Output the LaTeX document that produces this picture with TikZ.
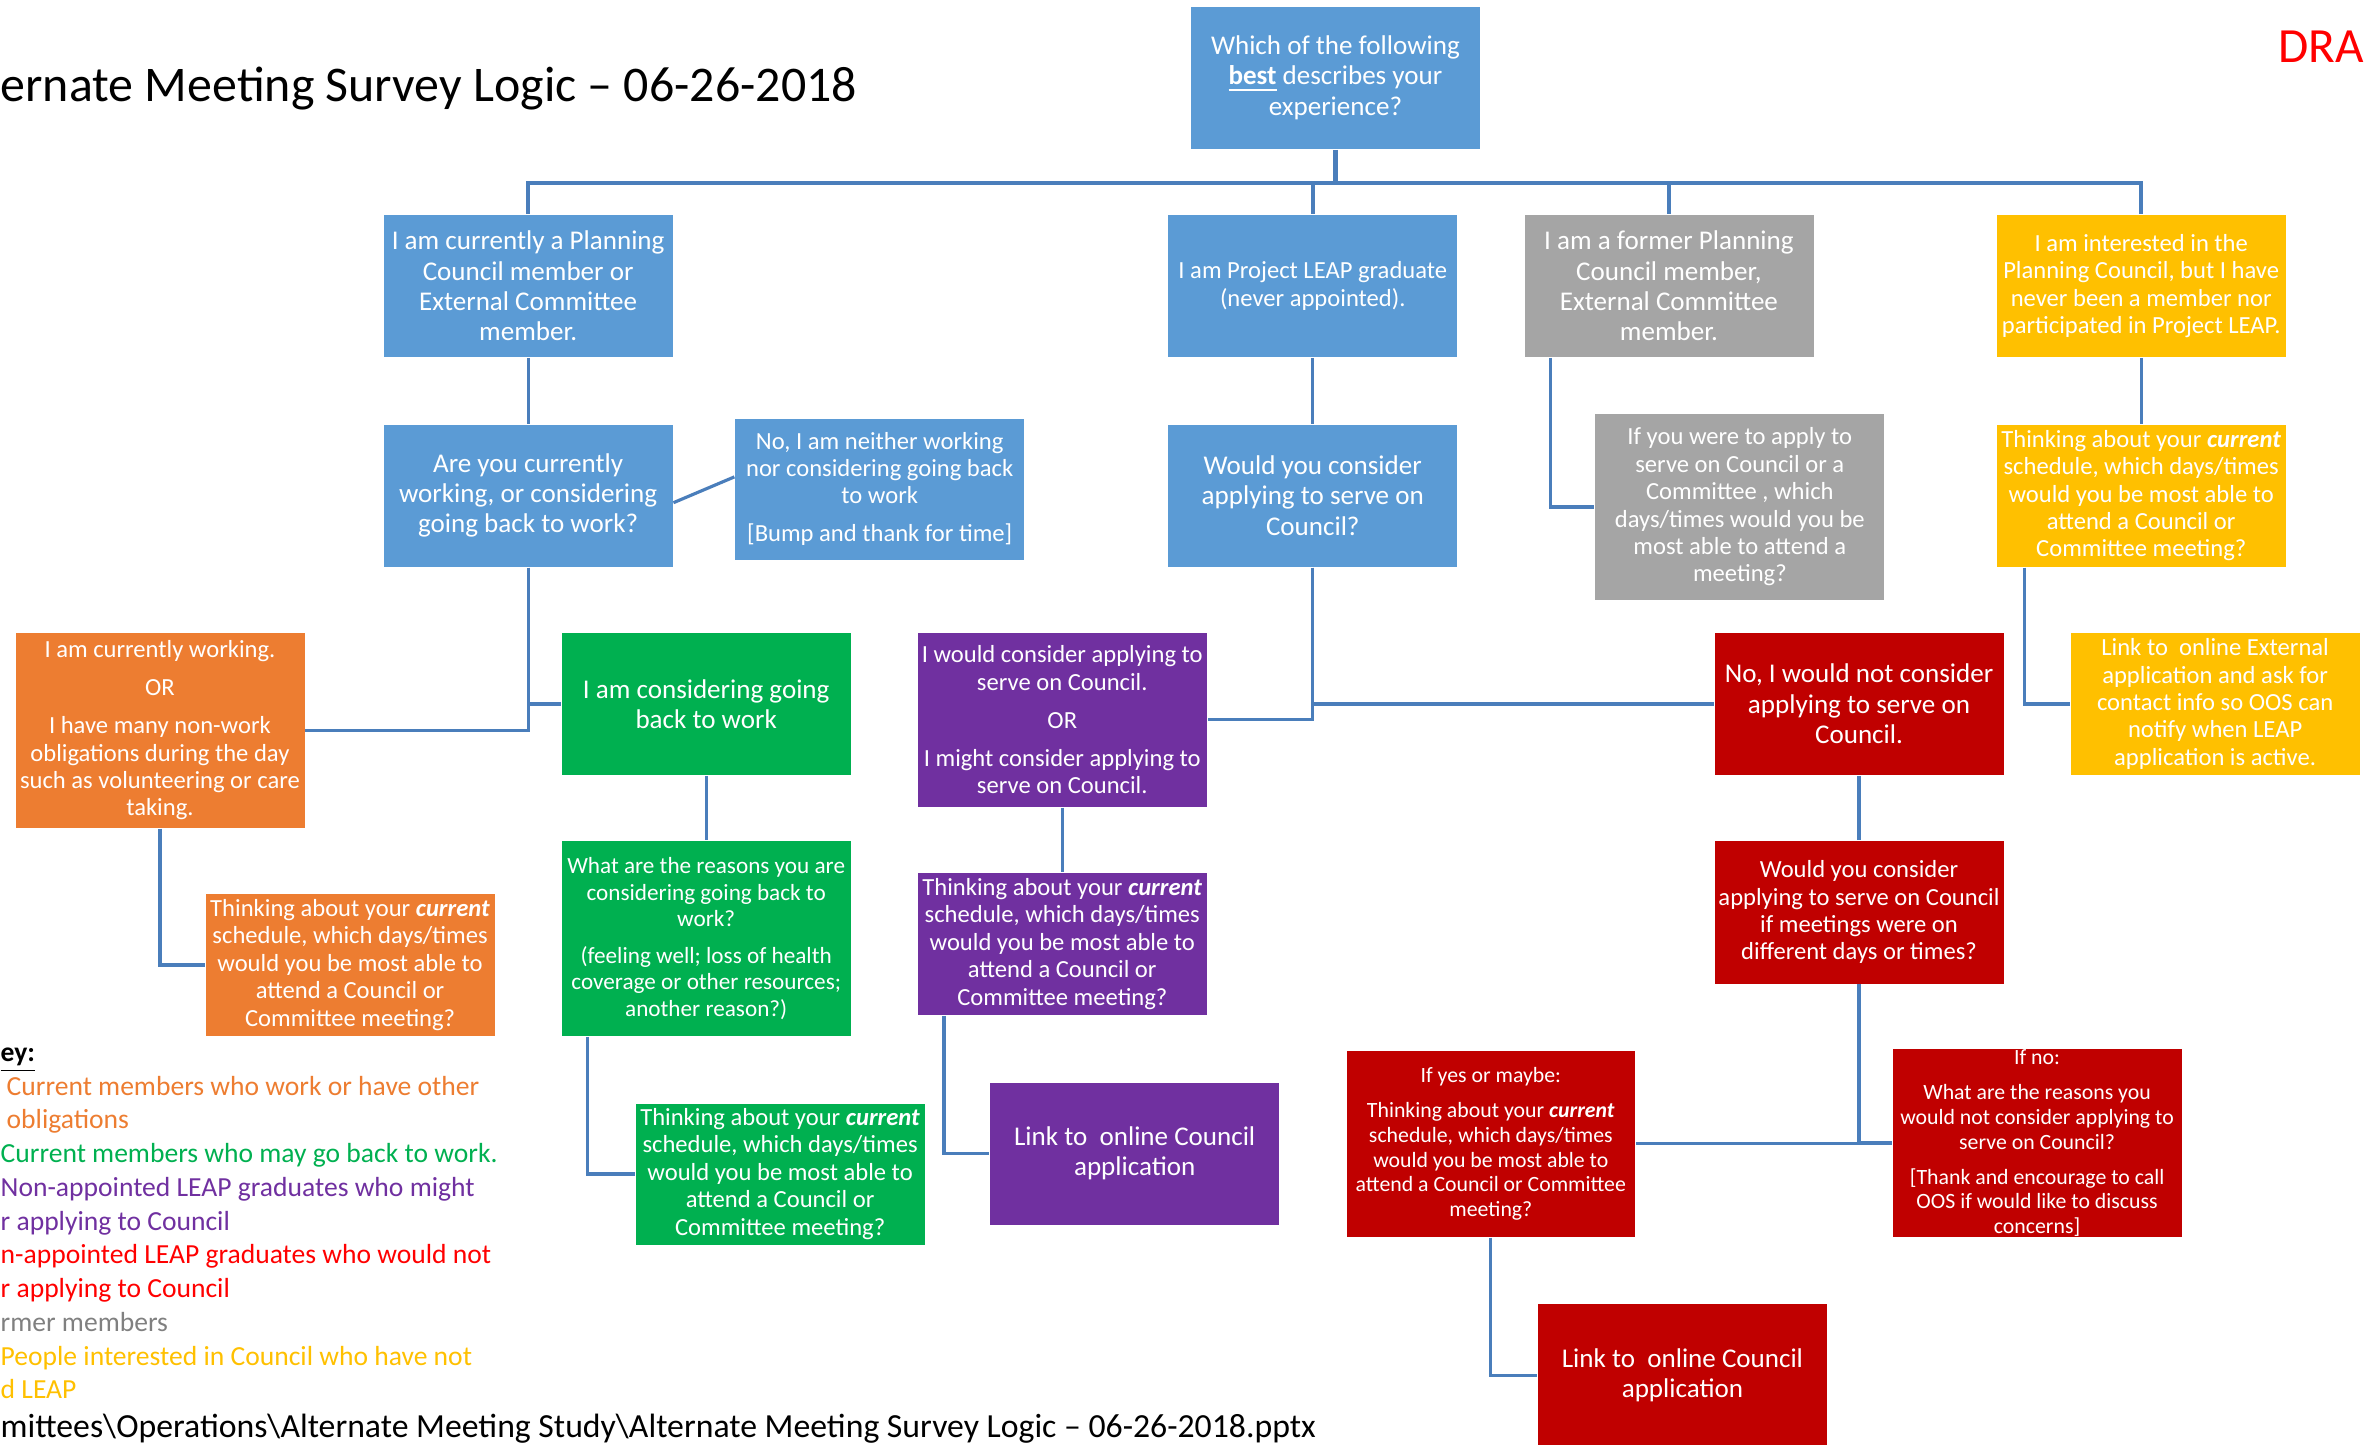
\documentclass[tikz,border=0pt]{standalone}
\usepackage{fontspec}
\setmainfont{Carlito}
\usepackage{tikz}
\usetikzlibrary{positioning, calc}

\definecolor{boxblue}{HTML}{5B9BD5}
\definecolor{boxgray}{HTML}{A5A5A5}
\definecolor{boxyellow}{HTML}{FFC000}
\definecolor{boxorange}{HTML}{ED7D31}
\definecolor{boxgreen}{HTML}{00B050}
\definecolor{boxpurple}{HTML}{7030A0}
\definecolor{boxred}{HTML}{C00000}
\definecolor{keyred}{HTML}{FF0000}
\definecolor{keygray}{HTML}{808080}
\definecolor{linkline}{HTML}{4A7EBB}

\newcommand{\txtbig}{\fontsize{7.7}{8.6}\selectfont}
\newcommand{\txtmed}{\fontsize{7.0}{7.8}\selectfont}
\newcommand{\txtrsn}{\fontsize{6.6}{7.5}\selectfont}
\newcommand{\txtsml}{\fontsize{6.2}{7.0}\selectfont}
\newcommand{\cur}{\textbf{\textit{current}}}

\begin{document}
\begin{tikzpicture}[x=0.01509cm, y=-0.01509cm,
    box/.style={rectangle, minimum width=2.9cm, minimum height=1.434cm,
        inner sep=0.01cm, align=center, text=white, draw=white, line width=0.2pt},
    conn/.style={draw=linkline, line width=0.9pt},
    bus/.style={conn, line width=1.2pt}]
    \useasboundingbox (0,0) rectangle (1568,957);

    % Title
    \node[anchor=west, inner sep=0, font=\fontsize{14.2}{16}\selectfont] (title) at (0,59) {ernate Meeting Survey Logic – 06-26-2018};
    \node[anchor=east, inner sep=0, text=keyred, font=\fontsize{14}{16}\selectfont] (draft) at (1567,31) {DRA};

    % First question
    \node[box, fill=boxblue, font=\txtbig] (q0) at (885,51.5) {Which of the following\\\underline{\textbf{best}} describes your\\experience?};

    % Answers
    \node[box, fill=boxblue, font=\txtbig] (b1) at (350,189.5) {I am currently a Planning\\Council member or\\External Committee\\member.};
    \node[box, fill=boxblue, font=\txtmed] (b2) at (870,189.5) {I am Project LEAP graduate\\(never appointed).};
    \node[box, fill=boxgray, font=\txtbig] (b3) at (1106,189.5) {I am a former Planning\\Council member,\\External Committee\\member.};
    \node[box, fill=boxyellow, font=\txtmed] (b4) at (1419,189.5) {I am interested in the\\Planning Council, but I have\\never been a member nor\\participated in Project LEAP.};

    % Second row
    \node[box, fill=boxblue, font=\txtbig] (q1) at (350,328.5) {Are you currently\\working, or considering\\going back to work?};
    \node[box, fill=boxblue, font=\txtmed, minimum height=1.42cm] (nowork) at (583,324) {No, I am neither working\\nor considering going back\\to work\\[3pt][Bump and thank for time]};
    \node[box, fill=boxblue, font=\txtbig] (q2) at (870,328.5) {Would you consider\\applying to serve on\\Council?};
    \node[box, fill=boxgray, font=\txtmed, minimum height=1.87cm] (q3) at (1153,336) {If you were to apply to\\serve on Council or a\\Committee , which\\days/times would you be\\most able to attend a\\meeting?};
    \node[box, fill=boxyellow, font=\txtmed] (ythink) at (1419,328.5) {Thinking about your \cur\\schedule, which days/times\\would you be most able to\\attend a Council or\\Committee meeting?};

    % Third row
    \node[box, fill=boxorange, font=\txtmed, minimum height=1.96cm] (work) at (106,484) {I am currently working.\\[3pt]OR\\[3pt]I have many non-work\\obligations during the day\\such as volunteering or care\\taking.};
    \node[box, fill=boxgreen, font=\txtbig] (back) at (468,466.5) {I am considering going\\back to work};
    \node[box, fill=boxpurple, font=\txtmed, minimum height=1.75cm] (consider) at (704,477) {I would consider applying to\\serve on Council.\\[3pt]OR\\[3pt]I might consider applying to\\serve on Council.};
    \node[box, fill=boxred, font=\txtbig] (rno) at (1232,466.5) {No, I would not consider\\applying to serve on\\Council.};
    \node[box, fill=boxyellow, font=\txtmed] (ylink) at (1468,466.5) {Link to\ \ online External\\application and ask for\\contact info so OOS can\\notify when LEAP\\application is active.};

    % Fourth row
    \node[box, fill=boxorange, font=\txtmed] (othink) at (232,639.5) {Thinking about your \cur\\schedule, which days/times\\would you be most able to\\attend a Council or\\Committee meeting?};
    \node[box, fill=boxgreen, font=\txtrsn, minimum height=1.96cm] (reasons) at (468,622) {What are the reasons you are\\considering going back to\\work?\\[3pt](feeling well; loss of health\\coverage or other resources;\\another reason?)};
    \node[box, fill=boxpurple, font=\txtmed] (pthink) at (704,625.5) {Thinking about your \cur\\schedule, which days/times\\would you be most able to\\attend a Council or\\Committee meeting?};
    \node[box, fill=boxred, font=\txtmed] (rwould) at (1232,604.5) {Would you consider\\applying to serve on Council\\if meetings were on\\different days or times?};

    % Last row
    \node[box, fill=boxgreen, font=\txtmed, minimum height=1.42cm] (gthink) at (517,778) {Thinking about your \cur\\schedule, which days/times\\would you be most able to\\attend a Council or\\Committee meeting?};
    \node[box, fill=boxpurple, font=\txtbig] (plink) at (752,764.5) {Link to\ \ online Council\\application};
    \node[box, fill=boxred, font=\txtsml, minimum height=1.87cm] (ryes) at (988,758) {If yes or maybe:\\[3pt]Thinking about your \cur\\schedule, which days/times\\would you be most able to\\attend a Council or Committee\\meeting?};
    \node[box, fill=boxred, font=\txtsml, minimum height=1.86cm] (rno2) at (1350,757.5) {If no:\\[3pt]What are the reasons you\\would not consider applying to\\serve on Council?\\[3pt][Thank and encourage to call\\OOS if would like to discuss\\concerns]};
    \node[box, fill=boxred, font=\txtbig] (rlink) at (1115,911.5) {Link to\ \ online Council\\application};

    % Key
    \node[anchor=north west, inner sep=0, align=left, font=\fontsize{7.85}{9.6}\selectfont] (key) at (0,694) {%
        \textbf{\underline{ey:}}\\
        \textcolor{boxorange}{\hspace*{0.06cm}Current members who work or have other}\\
        \textcolor{boxorange}{\hspace*{0.06cm}obligations}\\
        \textcolor{boxgreen}{Current members who may go back to work.}\\
        \textcolor{boxpurple}{Non-appointed LEAP graduates who might}\\
        \textcolor{boxpurple}{r applying to Council}\\
        \textcolor{keyred}{n-appointed LEAP graduates who would not}\\
        \textcolor{keyred}{r applying to Council}\\
        \textcolor{keygray}{rmer members}\\
        \textcolor{boxyellow}{People interested in Council who have not}\\
        \textcolor{boxyellow}{d LEAP}};
    \node[anchor=west, inner sep=0, font=\fontsize{9.6}{11}\selectfont] (path) at (0,947) {mittees\textbackslash Operations\textbackslash Alternate Meeting Study\textbackslash Alternate Meeting Survey Logic – 06-26-2018.pptx};

    % Connections
    \draw[bus] (q0.south) -- ++(0,22) coordinate (fork);
    \foreach \n in {b1,b2,b3,b4}
        \draw[bus] (fork) -| (\n.north);
    \draw[conn] (b1) -- (q1);
    \draw[conn] ([yshift=-0.07cm]q1.east) -- ([yshift=0.12cm]nowork.west);
    \draw[conn] (q1.south) |- (work.east);
    \draw[conn] (q1.south) |- (back.west);
    \draw[conn] (b2) -- (q2);
    \draw[conn] (q2.south) |- (consider.east);
    \draw[conn] (q2.south) |- (rno.west);
    \draw[conn] ([xshift=0.27cm]b3.south west) |- (q3.west);
    \draw[conn] (b4) -- (ythink);
    \draw[conn] ([xshift=0.29cm]ythink.south west) |- (ylink.west);
    \draw[conn] (work.south) |- (othink.west);
    \draw[conn] (back) -- (reasons);
    \draw[conn] ([xshift=0.27cm]reasons.south west) |- (gthink.west);
    \draw[conn] (consider) -- (pthink);
    \draw[conn] ([xshift=0.27cm]pthink.south west) |- (plink.west);
    \draw[conn] (rno) -- (rwould);
    \draw[conn] (rwould.south) |- (ryes.east);
    \draw[conn] (rwould.south) |- (rno2.west);
    \draw[conn] (ryes.south) |- (rlink.west);
\end{tikzpicture}
\end{document}
